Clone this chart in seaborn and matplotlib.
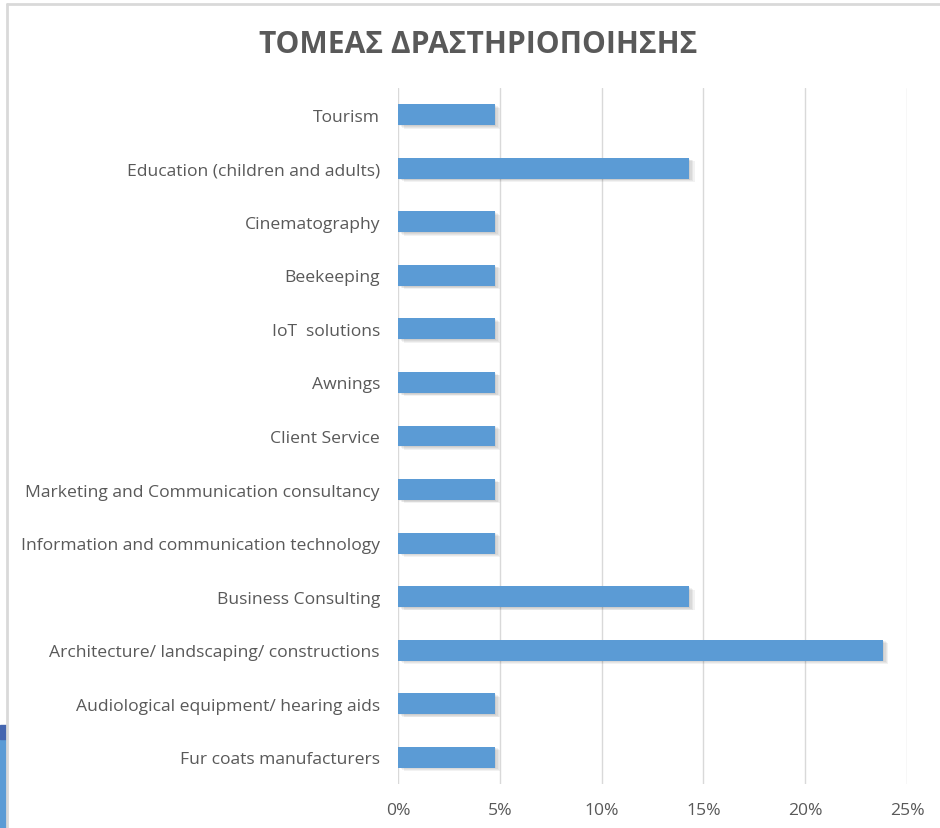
import matplotlib
matplotlib.use("Agg")
import matplotlib.pyplot as plt
import matplotlib.patheffects as pe
from matplotlib.patches import Rectangle
from matplotlib.ticker import FuncFormatter
import seaborn as sns
import pandas as pd

# Τομέας δραστηριοποίησης - ποσοστά ανά κλάδο (21 απαντήσεις)
sectors = [
    "Tourism",
    "Education (children and adults)",
    "Cinematography",
    "Beekeeping",
    "IoT  solutions",
    "Awnings",
    "Client Service",
    "Marketing and Communication consultancy",
    "Information and communication technology",
    "Business Consulting",
    "Architecture/ landscaping/ constructions",
    "Audiological equipment/ hearing aids",
    "Fur coats manufacturers",
]
shares = [4.76, 14.29, 4.76, 4.76, 4.76, 4.76, 4.76, 4.76, 4.76, 14.29, 23.81, 4.76, 4.76]
x_ticks = [0, 5, 10, 15, 20, 25]

df = pd.DataFrame({"sector": sectors, "share": shares})

sns.set_theme(style="white")
plt.rcParams["font.family"] = ["Open Sans", "DejaVu Sans"]

text_grey = "#595959"
bar_blue = "#5B9BD5"

fig = plt.figure(figsize=(9.4, 8.29), dpi=100)
ax = fig.add_axes([0.4234, 0.0531, 0.5415, 0.8395])

sns.barplot(data=df, x="share", y="sector", orient="h", color=bar_blue,
            width=0.39, saturation=1, linewidth=0, ax=ax, zorder=3)

# μαλακή σκιά όπως στο Excel
shadow = [pe.SimplePatchShadow(offset=(o, -o * 0.6), shadow_rgbFace="#000000", alpha=0.05)
          for o in (1, 2, 3, 4)]
for patch in ax.patches:
    patch.set_edgecolor("none")
    patch.set_path_effects(shadow + [pe.Normal()])

ax.set_xlim(0, 25)
ax.set_ylim(len(sectors) - 0.5, -0.5)
ax.set_xticks(x_ticks)
ax.xaxis.set_major_formatter(FuncFormatter(lambda v, p: f"{v:.0f}%"))
ax.grid(axis="x", color="#D9D9D9", linewidth=1, zorder=0)
ax.grid(axis="y", visible=False)
for side in ["top", "right", "bottom", "left"]:
    ax.spines[side].set_visible(False)

ax.set_xlabel("")
ax.set_ylabel("")
ax.tick_params(axis="y", length=0, pad=13, labelsize=12.6, labelcolor=text_grey)
ax.tick_params(axis="x", length=0, pad=13, labelsize=12.6, labelcolor=text_grey)

fig.text(0.509, 0.946, "ΤΟΜΕΑΣ ΔΡΑΣΤΗΡΙΟΠΟΙΗΣΗΣ", ha="center", va="center",
         fontsize=21.6, fontweight="bold", color=text_grey)

# πλαίσιο του γραφήματος (όπως στο στιγμιότυπο)
fig.add_artist(plt.Line2D([6.5 / 940, 1], [1 - 4.5 / 829, 1 - 4.5 / 829],
                          color="#D9D9D9", linewidth=2, transform=fig.transFigure))
fig.add_artist(plt.Line2D([6.5 / 940, 6.5 / 940], [0, 1 - 4.5 / 829],
                          color="#D9D9D9", linewidth=2, transform=fig.transFigure))
fig.add_artist(Rectangle((0, 0), 5.5 / 940, 89 / 829, color=bar_blue,
                         transform=fig.transFigure))
fig.add_artist(Rectangle((0, 89 / 829), 5.5 / 940, 14 / 829, color="#4566B0",
                         transform=fig.transFigure))

fig.savefig("out.png", dpi=100)
